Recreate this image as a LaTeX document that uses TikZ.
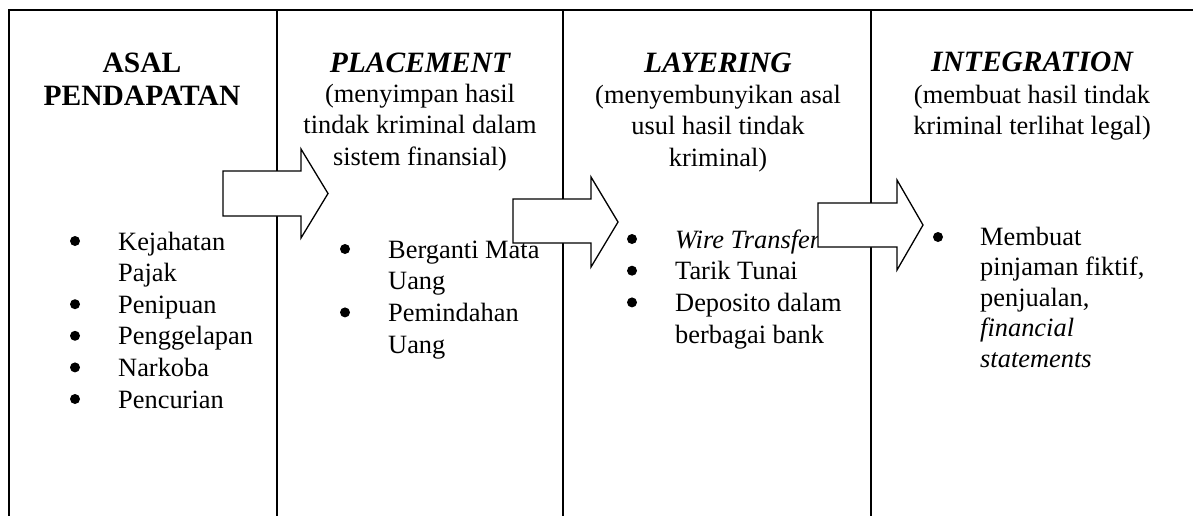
\documentclass[tikz,border=0pt]{standalone}
\usepackage{fontspec}
\setmainfont{Liberation Serif}
\begin{document}
\begin{tikzpicture}[x=1pt,y=-1pt,
  frame/.style={line width=2pt},
  blockarrow/.style={draw=black,fill=white,line width=1.3pt,line join=miter},
  head/.style={font=\fontsize{29.5}{33}\selectfont\bfseries,anchor=base,inner sep=0pt,align=center},
  sub/.style={font=\fontsize{26.4}{31.7}\selectfont,anchor=base,inner sep=0pt,align=center},
  items/.style={font=\fontsize{26.4}{31.7}\selectfont,anchor=base west,inner sep=0pt,align=left},
  dot/.style={fill=black}]
\useasboundingbox (0,0) rectangle (1193,515);
% frame
\draw[frame] (9,520) -- (9,10) -- (1200,10);
\draw[frame] (277,10) -- (277,520);
\draw[frame] (563,10) -- (563,520);
\draw[frame] (871,10) -- (871,520);
% headings (anchor = baseline of last line)
\node[head] (h1) at (142,105) {ASAL\\PENDAPATAN};
\node[head] (h2) at (420,72) {\itshape PLACEMENT};
\node[sub] (s2) at (420,165.4) {(menyimpan hasil\\tindak kriminal dalam\\sistem finansial)};
\node[head] (h3) at (718,72) {\itshape LAYERING};
\node[sub] (s3) at (718,166.4) {(menyembunyikan asal\\usul hasil tindak\\kriminal)};
\node[head] (h4) at (1032,71) {\itshape INTEGRATION};
\node[sub] (s4) at (1032,134.7) {(membuat hasil tindak\\kriminal terlihat legal)};
% arrow 1
\draw[blockarrow] (223,171) -- (301,171) -- (301,149) -- (328,193.5) -- (301,238) -- (301,216) -- (223,216) -- cycle;
% column 1 list
\node[items,font=\fontsize{26.4}{31.6}\selectfont] (l1) at (118,408) {Kejahatan\\Pajak\\Penipuan\\Penggelapan\\Narkoba\\Pencurian};
\foreach \y in {250,313.2,344.8,376.4,408} \fill[dot] (75,\y-9) circle[radius=5pt];
% arrow 2
\draw[blockarrow] (513,199) -- (591,199) -- (591,177) -- (618,222) -- (591,267) -- (591,243) -- (513,243) -- cycle;
% column 2 list
\node[items] (l2) at (388,353.1) {Berganti Mata\\Uang\\Pemindahan\\Uang};
\foreach \y in {258,321.4} \fill[dot] (345,\y-9) circle[radius=5pt];
% column 3 list
\node[items] (l3) at (675,343.1) {\textit{Wire Transfer}\\Tarik Tunai\\Deposito dalam\\berbagai bank};
\foreach \y in {248,279.7,311.4} \fill[dot] (632,\y-9) circle[radius=5pt];
% arrow 3
\draw[blockarrow] (818,203) -- (897,203) -- (897,180) -- (923,225) -- (897,270) -- (897,247) -- (818,247) -- cycle;
% column 4 list
\node[items,font=\fontsize{26.4}{30.5}\selectfont] (l4) at (980,367) {Membuat\\pinjaman fiktif,\\penjualan,\\\textit{financial}\\\textit{statements}};
\fill[dot] (938,237) circle[radius=5pt];
\end{tikzpicture}
\end{document}
